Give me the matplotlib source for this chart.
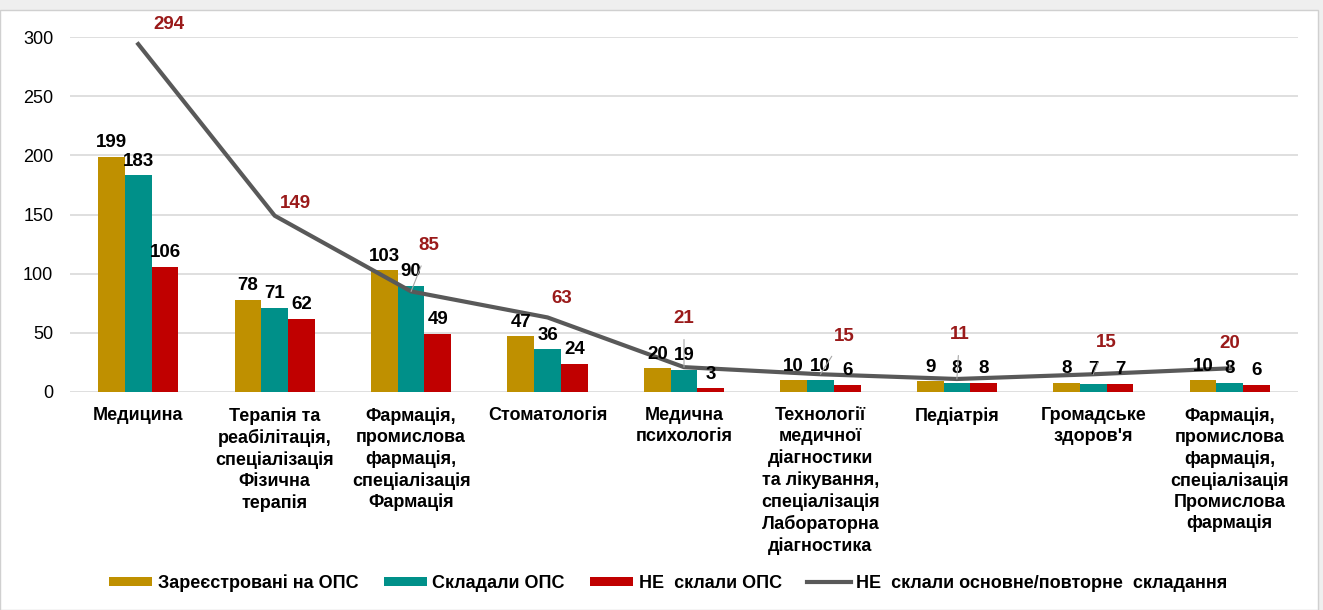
import matplotlib.pyplot as plt
import numpy as np
from matplotlib.patches import Rectangle

plt.rcParams['font.family'] = ['Liberation Sans', 'DejaVu Sans']

categories = [
    'Медицина',
    'Терапія та\nреабілітація,\nспеціалізація\nФізична\nтерапія',
    'Фармація,\nпромислова\nфармація,\nспеціалізація\nФармація',
    'Стоматологія',
    'Медична\nпсихологія',
    'Технології\nмедичної\nдіагностики\nта лікування,\nспеціалізація\nЛабораторна\nдіагностика',
    'Педіатрія',
    "Громадське\nздоров'я",
    'Фармація,\nпромислова\nфармація,\nспеціалізація\nПромислова\nфармація',
]
registered = [199, 78, 103, 47, 20, 10, 9, 8, 10]
took = [183, 71, 90, 36, 19, 10, 8, 7, 8]
failed = [106, 62, 49, 24, 3, 6, 8, 7, 6]
failed_total = [294, 149, 85, 63, 21, 15, 11, 15, 20]

series_names = ['Зареєстровані на ОПС', 'Складали ОПС', 'НЕ  склали ОПС']
line_name = 'НЕ  склали основне/повторне  складання'

# label placement for the line values (points), like the hand-moved Excel labels
line_label_offsets = [(22, 14), (15, 9), (13, 33), (10, 14), (0, 35), (17, 27), (2, 32), (9, 23), (0, 18)]
line_label_leader = [False, False, True, False, True, True, True, True, True]

colors = ['#BF9000', '#009089', '#C00000']
line_color = '#595959'
red_text = '#9A1A1A'

fig = plt.figure(figsize=(13.23, 6.10), dpi=100)
fig.patch.set_facecolor('#EFEFEF')
fig.add_artist(Rectangle((0.0, 0.0), 1318 / 1323, 1 - 10 / 610, transform=fig.transFigure,
                         facecolor='white', edgecolor='#D0D0D0', linewidth=1, zorder=-1))

ax = fig.add_axes([70 / 1323, 1 - 392 / 610, 1228 / 1323, 355 / 610])
ax.set_facecolor('none')

x = np.arange(len(categories))
w = 0.196
bar_handles = []
for i, (vals, c, name) in enumerate(zip([registered, took, failed], colors, series_names)):
    pos = x + (i - 1) * w
    bar_handles.append(ax.bar(pos, vals, width=w, color=c, label=name, zorder=2))
    for xp, v in zip(pos, vals):
        ax.annotate(str(v), (xp, v), xytext=(0, 4), textcoords='offset points',
                    ha='center', va='bottom', fontsize=13.5, fontweight='bold', color='black', zorder=4)

line_handle, = ax.plot(x, failed_total, color=line_color, linewidth=3, label=line_name, zorder=3)
for xp, v, off, lead in zip(x, failed_total, line_label_offsets, line_label_leader):
    ax.annotate(str(v), (xp, v), xytext=off, textcoords='offset points',
                ha='center', va='center', fontsize=13.5, fontweight='bold', color=red_text,
                annotation_clip=False, zorder=4,
                arrowprops=dict(arrowstyle='-', color='#A6A6A6', lw=0.8, shrinkA=7, shrinkB=0) if lead else None)

ax.set_xlim(-0.5, len(categories) - 0.5)
ax.set_ylim(0, 300)
ax.set_yticks(range(0, 301, 50))
ax.yaxis.grid(True, color='#D9D9D9', linewidth=1.2, zorder=0)
ax.set_axisbelow(True)
for s in ax.spines.values():
    s.set_visible(False)
ax.tick_params(axis='y', length=0, labelsize=13, pad=12)
ax.tick_params(axis='x', length=0, pad=11)
ax.set_xticks(x)
ax.set_xticklabels(categories, fontsize=13, fontweight='bold', linespacing=1.3, va='top')

fig.legend(bar_handles + [line_handle], series_names + [line_name],
           loc='center', bbox_to_anchor=(0.505, 1 - 583 / 610), ncol=4, frameon=False,
           prop=dict(family=['Liberation Sans Narrow', 'Liberation Sans'], weight='bold', size=13),
           handlelength=2.4, handleheight=0.45, handletextpad=0.3, columnspacing=1.4)

fig.savefig('out.png', dpi=100, facecolor=fig.get_facecolor())
